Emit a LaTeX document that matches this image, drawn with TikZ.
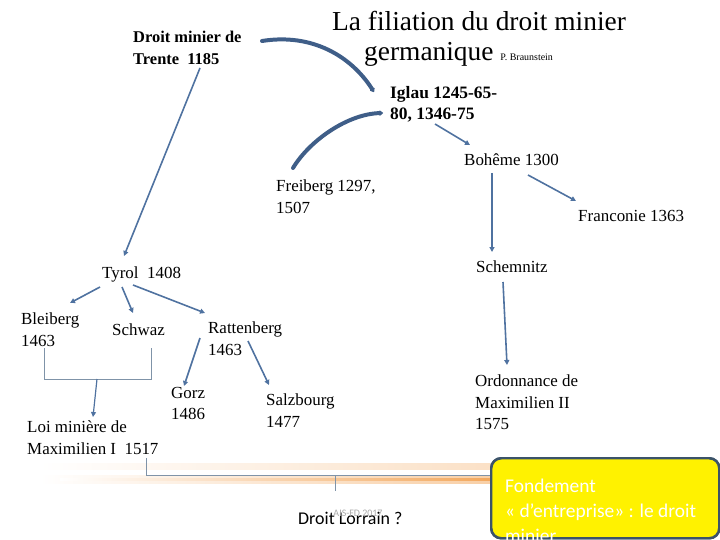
\documentclass[tikz,border=0pt]{standalone}
\usepackage{fontspec}
\setmainfont{Liberation Serif}
\newfontfamily\carlito{Carlito}
\usetikzlibrary{arrows.meta,calc}
\definecolor{linkblue}{HTML}{4F72A0}
\definecolor{curveblue}{HTML}{3F5E88}
\definecolor{bracketgray}{HTML}{7F93A8}
\definecolor{boxedge}{HTML}{3B5369}
\definecolor{glow}{HTML}{F2A65A}
\definecolor{notegray}{HTML}{A8A8A8}

\begin{document}
\begin{tikzpicture}[
    x=1bp, y=-1bp,
    town/.style={anchor=north west, inner sep=0pt, align=left, font=\fontsize{17}{21.5}\selectfont},
    bold_town/.style={town, font=\fontsize{16.5}{21.5}\selectfont\bfseries},
    link/.style={draw=linkblue, line width=1.6pt, -{Triangle[length=5pt,width=5pt]}},
    curve_link/.style={draw=curveblue, line width=4pt, line cap=round, -{Triangle[length=4pt,width=6pt,round]}},
    bracket/.style={draw=bracketgray, line width=0.9pt},
    fond_box/.style={anchor=north west, draw=boxedge, line width=2.5pt, fill=yellow, rounded corners=10pt, minimum width=228bp, minimum height=80bp, inner sep=0pt},
    fond_text/.style={anchor=north west, inner sep=0pt, align=left, text=white, font=\carlito\fontsize{19.5}{25}\selectfont}
  ]
  \useasboundingbox (0,0) rectangle (720,540);

  % Title
  \node[anchor=center, inner sep=0pt, font=\fontsize{27.5}{30}\selectfont] (title_top) at (479,21) {La filiation du droit minier};
  \node[anchor=base west, inner sep=0pt, font=\fontsize{27.5}{30}\selectfont] (title_bottom) at (364,61) {germanique {\fontsize{10}{12}\selectfont P. Braunstein}};

  % Places
  \node[bold_town] (trente) at (133,31) {Droit minier de\\Trente~ 1185};
  \node[bold_town, font=\fontsize{17.5}{21.5}\selectfont\bfseries] (iglau) at (390,86) {Iglau 1245-65-\\80, 1346-75};
  \node[town] (boheme) at (464,154) {Bohême 1300};
  \node[town] (freiberg) at (276,180) {Freiberg 1297,\\1507};
  \node[town] (franconie) at (578,210) {Franconie 1363};
  \node[town] (schemnitz) at (476,261) {Schemnitz};
  \node[town] (tyrol) at (102,267) {Tyrol~ 1408};
  \node[town] (bleiberg) at (21,313) {Bleiberg\\1463};
  \node[town] (schwaz) at (112,324) {Schwaz};
  \node[town] (rattenberg) at (208,322) {Rattenberg\\1463};
  \node[town] (gorz) at (171,387) {Gorz\\1486};
  \node[town] (salzbourg) at (266,394) {Salzbourg\\1477};
  \node[town] (loi_max1) at (27,421) {Loi minière de\\Maximilien I~ 1517};
  \node[town] (ordo_max2) at (475,375) {Ordonnance de\\Maximilien II\\1575};

  % Thick curves
  \draw[curve_link] ($(trente.north west)+(129,10)$) .. controls (312,33) and (351,56) .. ($(iglau.north west)+(-16,6)$);
  \draw[curve_link] ($(freiberg.north west)+(17,-12)$) .. controls (310,140) and (348,114) .. ($(iglau.north west)+(-7,27)$);

  % Filiation links
  \draw[link] ($(trente.north west)+(67,37)$) -- ($(tyrol.north west)+(22,-11)$);
  \draw[link] ($(iglau.north west)+(45,38)$) -- ($(boheme.north west)+(6,-9)$);
  \draw[link] ($(boheme.north west)+(64,21)$) -- ($(franconie.north west)+(-2,-9)$);
  \draw[link] ($(boheme.north west)+(28,19)$) -- ($(schemnitz.north west)+(16,-9)$);
  \draw[link] ($(schemnitz.north west)+(27,21)$) -- ($(ordo_max2.north west)+(32,-10)$);
  \draw[link] ($(tyrol.north west)+(-2,20)$) -- ($(bleiberg.north west)+(49,-10)$);
  \draw[link] ($(tyrol.north west)+(20,20)$) -- ($(schwaz.north west)+(21,-11)$);
  \draw[link] ($(tyrol.north west)+(31,18)$) -- ($(rattenberg.north west)+(-3,-9)$);
  \draw[link] ($(rattenberg.north west)+(-8,16)$) -- ($(gorz.north west)+(13,-1)$);
  \draw[link] ($(rattenberg.north west)+(40,19)$) -- ($(salzbourg.north west)+(3,-9)$);

  % Bleiberg + Schwaz -> Loi miniere
  \coordinate (pair_join) at (97,379);
  \draw[bracket] ($(bleiberg.north west)+(23,35)$) |- ($(schwaz.north west)+(39,55)$) -- ($(schwaz.north west)+(39,24)$);
  \draw[link, line width=1.2pt] (pair_join) -- ($(loi_max1.north west)+(66,-4)$);

  % Orange glow lines
  \shade[left color=white, right color=glow!35] (40,463) rectangle (500,469);
  \shade[left color=white, right color=glow!55] (40,475) rectangle (500,483);
  \shade[left color=white, right color=glow] (60,478) rectangle (500,480);

  % Loi miniere -> Droit Lorrain
  \node[anchor=north west, inner sep=0pt, font=\carlito\fontsize{18}{22}\selectfont] (lorrain) at (298,512) {Droit Lorrain ?};
  \node[anchor=center, inner sep=0pt, text=notegray, font=\carlito\fontsize{10}{12}\selectfont] (ais_note) at (358,513) {AIS-FD 2017};
  \node[fond_box] (fond) at (490,457) {};
  \coordinate (lorrain_join) at (335,475);
  \draw[bracket] ($(loi_max1.north west)+(119,37)$) |- ($(fond.north west)+(34,18)$) -- ($(fond.north west)+(34,1)$);
  \draw[bracket] (lorrain_join) -- ($(lorrain.north west)+(37,-21)$);

  % Box drawn again over the bracket end
  \node[fond_box] at (fond.north west) {};
  \node[fond_text] (fond_txt) at ($(fond.north west)+(15,22)$) {Fondement\\« d’entreprise» : le droit\\minier};
\end{tikzpicture}
\end{document}
